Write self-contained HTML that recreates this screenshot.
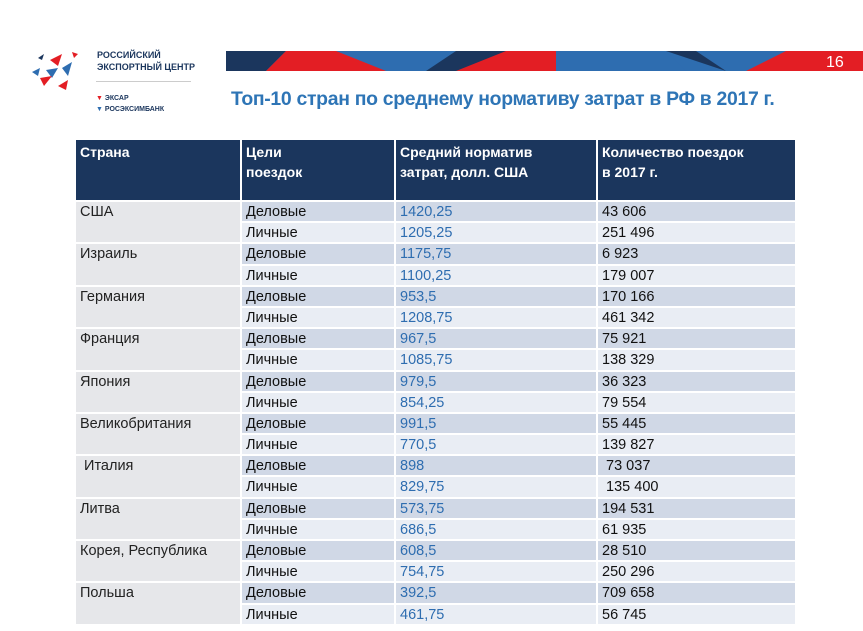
<!DOCTYPE html>
<html><head><meta charset="utf-8"><style>
body{margin:0;width:863px;height:631px;background:#fff;position:relative;overflow:hidden;font-family:"Liberation Sans","DejaVu Sans",sans-serif}
.banner{position:absolute;left:226px;top:51px;width:637px;height:20px;overflow:hidden}
.title{position:absolute;left:231px;top:88px;font-size:19.4px;font-weight:bold;color:#2e75b6;letter-spacing:-0.3px;white-space:nowrap}
table{position:absolute;left:74px;top:140px;border-collapse:collapse;table-layout:fixed;font-size:14.5px}
td{border:2px solid #fff;padding:2px 0 0 4px;height:17.2px;line-height:17px;vertical-align:top;white-space:nowrap}
th{background:#1b365d;color:#fff;text-align:left;vertical-align:top;font-size:14px;font-weight:bold;height:58px;padding:2px 0 0 4px;line-height:20px;border-left:2px solid #fff;border-right:2px solid #fff}
td.c{background:#e6e7ea;color:#222}
tr.d td.g,tr.d td.n,tr.d td.q{background:#d0d8e6}
tr.l td.g,tr.l td.n,tr.l td.q{background:#e9edf4}
td.n{color:#2e6db0}
td.g,td.q{color:#111}
</style></head><body>
<svg style="position:absolute;left:28px;top:50px" width="60" height="40">
<polygon points="10,8 16,4 14,10" fill="#1b365d"/><polygon points="22,10 34,4 30,16" fill="#e31e24"/><polygon points="18,20 30,18 24,28" fill="#2e6db0"/>
<polygon points="4,22 12,18 10,26" fill="#2e6db0"/><polygon points="12,28 24,26 16,36" fill="#e31e24"/><polygon points="34,18 44,12 40,26" fill="#2e6db0"/><polygon points="30,36 40,30 38,40" fill="#e31e24"/><polygon points="44,2 50,4 46,8" fill="#e31e24"/>
</svg>
<div style="position:absolute;left:97px;top:49px;font-size:9px;font-weight:bold;color:#1b365d;line-height:12px">РОССИЙСКИЙ<br>ЭКСПОРТНЫЙ ЦЕНТР</div>
<div style="position:absolute;left:96px;top:81px;width:95px;border-top:1px solid #ccc"></div>
<div style="position:absolute;left:96px;top:93px;font-size:7px;font-weight:bold;color:#1b365d;line-height:11px"><span style="color:#e31e24">▼</span> ЭКСАР<br><span style="color:#2e6db0">▼</span> РОСЭКСИМБАНК</div>
<div class="banner"><svg width="637" height="20">
<rect width="637" height="20" fill="#2e6db0"/>
<polygon points="0,0 60,0 40,20 0,20" fill="#1b365d"/>
<polygon points="60,0 110,0 160,20 40,20" fill="#e31e24"/>
<polygon points="200,20 230,0 300,0 280,20" fill="#1b365d"/>
<polygon points="230,20 280,0 330,0 330,20" fill="#e31e24"/>
<polygon points="360,20 440,0 460,20" fill="#2e6db0"/>
<polygon points="440,0 470,0 500,20" fill="#1b365d"/>
<polygon points="520,20 560,0 637,0 637,20" fill="#e31e24"/>
<text x="600" y="16" fill="#fff" font-size="16" font-family="Liberation Sans">16</text>
</svg></div>
<div class="title">Топ-10 стран по среднему нормативу затрат в РФ в 2017 г.</div>
<table>
<colgroup><col style="width:166px"><col style="width:154px"><col style="width:202px"><col style="width:199px"></colgroup>
<tr><th>Страна</th><th>Цели<br>поездок</th><th>Средний норматив<br>затрат, долл. США</th><th>Количество поездок<br>в 2017 г.</th></tr>
<tr class="d"><td class="c" rowspan="2">США</td><td class="g">Деловые</td><td class="n">1420,25</td><td class="q">43 606</td></tr>
<tr class="l"><td class="g">Личные</td><td class="n">1205,25</td><td class="q">251 496</td></tr>
<tr class="d"><td class="c" rowspan="2">Израиль</td><td class="g">Деловые</td><td class="n">1175,75</td><td class="q">6 923</td></tr>
<tr class="l"><td class="g">Личные</td><td class="n">1100,25</td><td class="q">179 007</td></tr>
<tr class="d"><td class="c" rowspan="2">Германия</td><td class="g">Деловые</td><td class="n">953,5</td><td class="q">170 166</td></tr>
<tr class="l"><td class="g">Личные</td><td class="n">1208,75</td><td class="q">461 342</td></tr>
<tr class="d"><td class="c" rowspan="2">Франция</td><td class="g">Деловые</td><td class="n">967,5</td><td class="q">75 921</td></tr>
<tr class="l"><td class="g">Личные</td><td class="n">1085,75</td><td class="q">138 329</td></tr>
<tr class="d"><td class="c" rowspan="2">Япония</td><td class="g">Деловые</td><td class="n">979,5</td><td class="q">36 323</td></tr>
<tr class="l"><td class="g">Личные</td><td class="n">854,25</td><td class="q">79 554</td></tr>
<tr class="d"><td class="c" rowspan="2">Великобритания</td><td class="g">Деловые</td><td class="n">991,5</td><td class="q">55 445</td></tr>
<tr class="l"><td class="g">Личные</td><td class="n">770,5</td><td class="q">139 827</td></tr>
<tr class="d"><td class="c" rowspan="2">&nbsp;Италия</td><td class="g">Деловые</td><td class="n">898</td><td class="q">&nbsp;73 037</td></tr>
<tr class="l"><td class="g">Личные</td><td class="n">829,75</td><td class="q">&nbsp;135 400</td></tr>
<tr class="d"><td class="c" rowspan="2">Литва</td><td class="g">Деловые</td><td class="n">573,75</td><td class="q">194 531</td></tr>
<tr class="l"><td class="g">Личные</td><td class="n">686,5</td><td class="q">61 935</td></tr>
<tr class="d"><td class="c" rowspan="2">Корея, Республика</td><td class="g">Деловые</td><td class="n">608,5</td><td class="q">28 510</td></tr>
<tr class="l"><td class="g">Личные</td><td class="n">754,75</td><td class="q">250 296</td></tr>
<tr class="d"><td class="c" rowspan="2">Польша</td><td class="g">Деловые</td><td class="n">392,5</td><td class="q">709 658</td></tr>
<tr class="l"><td class="g">Личные</td><td class="n">461,75</td><td class="q">56 745</td></tr>
</table>
</body></html>
